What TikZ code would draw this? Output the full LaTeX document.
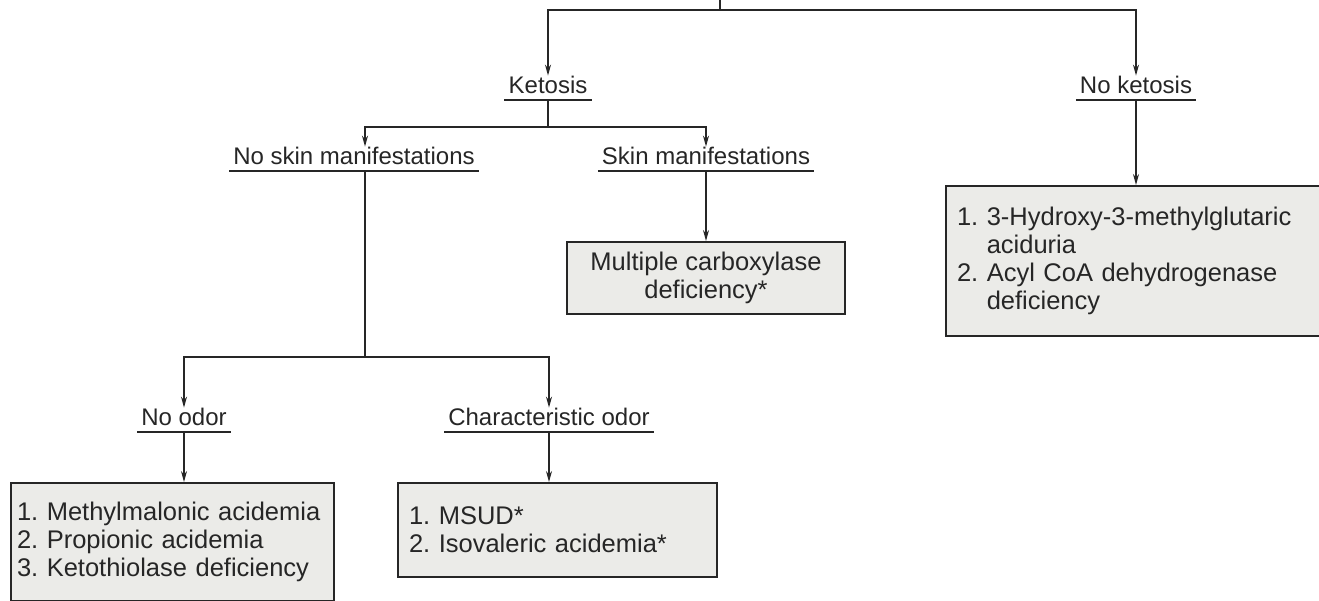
\documentclass[tikz,border=0pt]{standalone}
\usepackage{fontspec}
\setmainfont{Liberation Sans}
\usepackage{tikz}
\usetikzlibrary{positioning, arrows.meta, calc}
\definecolor{mInk}{HTML}{262626}
\definecolor{mFill}{HTML}{EBEBE8}

\begin{document}
\begin{tikzpicture}[
  x=1pt, y=1pt,
  every node/.style={text=mInk},
  cue/.style={anchor=south, font=\fontsize{24}{28}\selectfont, inner xsep=4pt, inner ysep=1pt,
    text height=17pt, text depth=5pt,
    append after command={(\tikzlastnode.south west) edge[line width=1.4pt, mInk] (\tikzlastnode.south east)}},
  dxbox/.style={draw=mInk, line width=2pt, fill=mFill, inner xsep=11pt, inner ysep=6pt,
    font=\fontsize{25.5}{28}\selectfont\frenchspacing},
  wire/.style={line width=1.3pt, draw=mInk},
  arr/.style={wire, -{Stealth[length=11pt, width=6pt]}},
]
  \useasboundingbox (0,0) rectangle (1319,-600);

  \coordinate (root) at (720,0);
  \coordinate (fork1) at (720,-10);
  \coordinate (fork2) at (548,-127);
  \coordinate (fork3) at (365,-357);

  \node[cue] (keto) at (548,-100) {Ketosis};
  \node[cue] (noketo) at (1136,-100) {No ketosis};
  \node[cue] (noskin) at (354,-171) {No skin manifestations};
  \node[cue] (skin) at (706,-171) {Skin manifestations};
  \node[cue] (noodor) at (184,-432) {No odor};
  \node[cue] (charodor) at (549,-432) {Characteristic odor};

  \node[dxbox, anchor=north, minimum width=278pt, minimum height=72pt, align=center]
    (mcd) at (706,-241) {Multiple carboxylase\\deficiency*};
  \node[dxbox, anchor=north west, text width=380pt, minimum height=150pt, align=left]
    (hmg) at (945,-185) {1. 3-Hydroxy-3-methylglutaric\\\phantom{1. }aciduria\\2. Acyl CoA dehydrogenase\\\phantom{2. }deficiency};
  \node[dxbox, anchor=north west, inner xsep=6pt, text width=311pt, minimum height=118pt, align=left]
    (orga) at (10,-482) {1. Methylmalonic acidemia\\2. Propionic acidemia\\3. Ketothiolase deficiency};
  \node[dxbox, anchor=north west, text width=297pt, minimum height=94pt, align=left]
    (msud) at (397,-482) {1. MSUD*\\2. Isovaleric acidemia*};

  \draw[wire] (root) -- (fork1);
  \draw[arr] (fork1) -| (keto);
  \draw[arr] (fork1) -| (noketo);
  \draw[wire] (keto) -- (fork2);
  \draw[arr] (fork2) -| (noskin.north -| fork3);
  \draw[arr] (fork2) -| (skin);
  \draw[arr] (skin) -- (skin |- mcd.north);
  \draw[arr] (noketo) -- (noketo |- hmg.north);
  \draw[wire] (noskin.south -| fork3) -- (fork3);
  \draw[arr] (fork3) -| (noodor);
  \draw[arr] (fork3) -| (charodor);
  \draw[arr] (noodor) -- (noodor |- orga.north);
  \draw[arr] (charodor) -- (charodor |- msud.north);
\end{tikzpicture}
\end{document}
